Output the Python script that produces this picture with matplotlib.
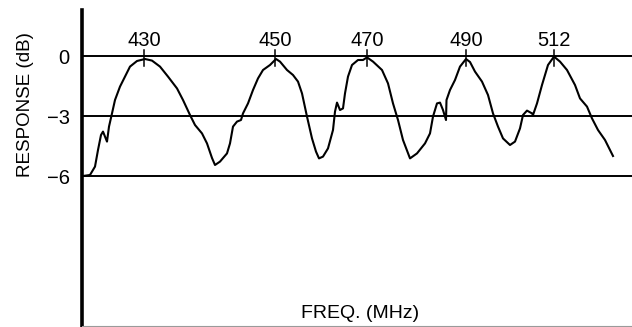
import matplotlib
matplotlib.use("Agg")
import matplotlib.pyplot as plt

plt.rcParams['font.family'] = ['Liberation Sans', 'DejaVu Sans']

# Sweep position (arbitrary horizontal units) and response (dB)
sweep_pos = [83, 90, 95, 98, 101, 103, 105, 107, 109, 112, 115, 120, 125, 130, 137,
             145, 152, 160, 168, 177, 183, 190, 195, 202, 207, 212, 215, 220, 227,
             230, 233, 237, 241, 243, 248, 253, 258, 263, 270, 276, 280, 287, 293,
             298, 302, 307, 312, 316, 319, 323, 328, 333, 335, 337, 340, 343, 345,
             348, 352, 358, 363, 367, 373, 382, 388, 393, 398, 403, 410, 417, 425,
             430, 433, 437, 440, 443, 446, 446.5, 450, 455, 460, 466, 470, 475, 482,
             488, 493, 498, 503, 510, 515, 520, 523, 527, 532, 533, 537, 542, 548,
             554, 560, 567, 575, 580, 587, 592, 598, 605, 613]
response_db = [-6.0, -5.95, -5.53, -4.7, -3.95, -3.78, -4.03, -4.28, -3.53, -2.87,
               -2.2, -1.53, -1.03, -0.53, -0.25, -0.15, -0.23, -0.53, -1.03, -1.62,
               -2.2, -2.95, -3.45, -3.87, -4.37, -5.1, -5.45, -5.28, -4.87, -4.37,
               -3.53, -3.28, -3.2, -2.87, -2.37, -1.7, -1.12, -0.7, -0.45, -0.15,
               -0.28, -0.7, -0.95, -1.28, -1.87, -3.03, -4.12, -4.78, -5.12, -5.03,
               -4.62, -3.7, -2.78, -2.33, -2.7, -2.62, -1.87, -1.03, -0.45, -0.2,
               -0.2, -0.07, -0.28, -0.7, -1.37, -2.37, -3.2, -4.2, -5.12, -4.87,
               -4.37, -3.87, -3.03, -2.37, -2.33, -2.7, -3.2, -2.2, -1.7, -1.2,
               -0.53, -0.15, -0.3, -0.78, -1.28, -1.95, -2.87, -3.53, -4.12, -4.45,
               -4.28, -3.62, -2.95, -2.73, -2.87, -2.95, -2.37, -1.45, -0.45, -0.03,
               -0.28, -0.7, -1.45, -2.12, -2.53, -3.12, -3.7, -4.2, -5.0]

peak_pos = [144, 275, 367, 466, 554]
peak_labels = ['430', '450', '470', '490', '512']

ref_levels = [0, -3, -6]
ref_labels = ['0', '\u22123', '\u22126']

fig = plt.figure(figsize=(6.32, 3.27), dpi=100)
ax = fig.add_axes([82 / 632, 1 / 327, 550 / 632, 316 / 327])
ax.set_xlim(82, 632)
ax.set_ylim(-13.5, 2.3)

for lvl in ref_levels:
    ax.axhline(lvl, color='black', lw=1.4, zorder=1)

ax.plot(sweep_pos, response_db, color='black', lw=1.5, zorder=3,
        solid_joinstyle='round')

for p, lab in zip(peak_pos, peak_labels):
    ax.plot([p, p], [0.3, -0.5], color='black', lw=1.1, zorder=4)
    ax.text(p, 0.3, lab, ha='center', va='bottom', fontsize=14.5)

ax.set_yticks(ref_levels)
ax.set_yticklabels(ref_labels, fontsize=14.5)
ax.tick_params(axis='y', length=0, pad=9)
ax.set_xticks([])

for s in ['top', 'right']:
    ax.spines[s].set_visible(False)
ax.spines['left'].set_linewidth(2.6)
ax.spines['bottom'].set_color('#9a9a9a')
ax.spines['bottom'].set_linewidth(0.8)

ax.text(360, -12.85, 'FREQ. (MHz)', ha='center', va='center', fontsize=14)
fig.text(0.04, (327 - 105) / 327, 'RESPONSE (dB)', rotation=90, ha='center',
         va='center', fontsize=13.5)

fig.savefig('out.png', dpi=100)
